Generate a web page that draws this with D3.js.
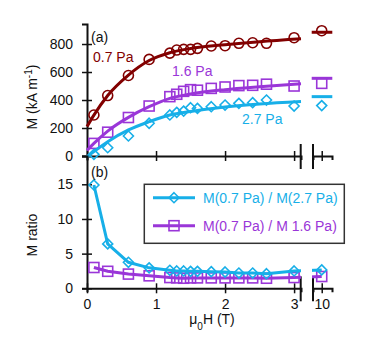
<!DOCTYPE html>
<html>
<head>
<meta charset="utf-8">
<script src="https://cdn.jsdelivr.net/npm/d3@7"></script>
<style>
  body { margin: 0; background: #fff; }
  svg text { font-family: "Liberation Sans", Arial, sans-serif; font-size: 14px; }
</style>
</head>
<body>
<div id="chart"></div>
<script>
// field values (T), last one sits on the broken-axis segment
var fieldX = [0.1, 0.3, 0.6, 0.9, 1.2, 1.3, 1.4, 1.5, 1.6, 1.8, 2.0, 2.2, 2.4, 2.6, 3.0, 10];
// magnetisation, kA/m
var m07 = [293, 432, 575, 690, 735, 757, 762, 762, 769, 786, 788, 805, 809, 805, 845, 895];
var m16 = [90, 170, 275, 357, 424, 441, 462, 474, 470, 483, 493, 503, 505, 513, 500, 519];
var m27 = [12, 59, 143, 234, 293, 312, 321, 345, 340, 352, 364, 376, 381, 400, 357, 360];
// fit curves
var fitX = [0, 0.1, 0.3, 0.6, 0.9, 1.2, 1.5, 2.0, 2.5, 3.1];
var fit07 = [210, 292, 432, 578, 682, 738, 768, 795, 817, 838];
var fit16 = [40, 90, 178, 276, 352, 412, 443, 474, 495, 516];
var fit27 = [-5, 32, 102, 186, 245, 293, 318, 350, 372, 390];
var fitAt10 = [884, 555, 424];
// ratios
var ratio27 = [14.9, 6.4, 3.75, 2.95, 2.6, 2.5, 2.5, 2.45, 2.45, 2.4, 2.35, 2.2, 2.2, 2.1, 2.5, 2.65];
var ratio16 = [3.0, 2.45, 2.05, 1.8, 1.55, 1.5, 1.45, 1.5, 1.5, 1.5, 1.5, 1.5, 1.5, 1.45, 1.55, 1.7];

var leftTicks = [0, 1, 2, 3];
var rightTicks = [10];
var mTicks = [0, 200, 400, 600, 800];
var rTicks = [0, 5, 10, 15];

var colRed = '#820000', colPurple = '#9a36d8', colCyan = '#17afe8';

var width = 381, height = 356;
var svg = d3.select('#chart').append('svg')
    .attr('width', width).attr('height', height);

// broken x axis: two linear pieces
var xL = d3.scaleLinear().domain([0, 3.1]).range([87, 301]);
var xR = d3.scaleLinear().domain([9.83, 10.2]).range([313, 332]);
function xpos(v) { return v < 5 ? xL(v) : xR(v); }

var yTop = d3.scaleLinear().domain([0, 943]).range([156, 24]);
var yBot = d3.scaleLinear().domain([0, 19.08]).range([288.3, 156]);

var defs = svg.append('defs');
var clip = defs.append('clipPath').attr('id', 'gapclip');
clip.append('rect').attr('x', 0).attr('y', 0).attr('width', 301).attr('height', height);
clip.append('rect').attr('x', 312).attr('y', 0).attr('width', width - 312).attr('height', height);

function crossTicks(g, horizontal) {
    g.selectAll('.tick line')
        .attr(horizontal ? 'y1' : 'x1', -5)
        .attr(horizontal ? 'y2' : 'x2', 5)
        .attr('stroke', '#111').attr('stroke-width', 1.5);
    g.select('.domain').attr('stroke', '#111').attr('stroke-width', 2);
    g.selectAll('text').attr('fill', '#111').style('font-size', '14px')
        .style('font-family', '"Liberation Sans", Arial, sans-serif');
}

function xAxes(y0, labels) {
    var gl = svg.append('g').attr('transform', 'translate(0,' + y0 + ')')
        .call(d3.axisBottom(xL).tickValues(leftTicks).tickSizeOuter(0).tickSize(4).tickPadding(7)
            .tickFormat(labels ? d3.format('d') : ''));
    crossTicks(gl, true);
    var gr = svg.append('g').attr('transform', 'translate(0,' + y0 + ')')
        .call(d3.axisBottom(xR).tickValues(rightTicks).tickSizeOuter(0).tickSize(4).tickPadding(7)
            .tickFormat(labels ? d3.format('d') : ''));
    crossTicks(gr, true);
    // break marks
    [300.7, 313].forEach(function(bx) {
        svg.append('line').attr('x1', bx).attr('x2', bx)
            .attr('y1', y0 - 12).attr('y2', y0 + 13)
            .attr('stroke', '#111').attr('stroke-width', 2);
    });
}

// ---- panel (a) ----
var ga = svg.append('g').attr('transform', 'translate(87,0)')
    .call(d3.axisLeft(yTop).tickValues(mTicks).tickSizeOuter(0).tickSize(5).tickPadding(9));
crossTicks(ga, false);
xAxes(156, false);

var fitLine = d3.line()
    .x(function(d) { return xL(d[0]); })
    .y(function(d) { return yTop(d[1]); })
    .curve(d3.curveMonotoneX);

var topSeries = [
    {vals: m07, fit: fit07, f10: fitAt10[0], color: colRed, shape: 'circle'},
    {vals: m16, fit: fit16, f10: fitAt10[1], color: colPurple, shape: 'square'},
    {vals: m27, fit: fit27, f10: fitAt10[2], color: colCyan, shape: 'diamond'}
];

function marker(sel, shape, color) {
    if (shape === 'circle') {
        sel.append('circle').attr('r', 5);
    } else if (shape === 'square') {
        sel.append('rect').attr('x', -5).attr('y', -5).attr('width', 10).attr('height', 10);
    } else {
        sel.append('path').attr('d', 'M0,-5L5,0L0,5L-5,0Z');
    }
    sel.selectAll('circle,rect,path').attr('fill', 'none').attr('stroke', color).attr('stroke-width', 1.6);
}

topSeries.forEach(function(s) {
    svg.append('path')
        .datum(fitX.map(function(x, i) { return [x, s.fit[i]]; }))
        .attr('d', fitLine)
        .attr('fill', 'none').attr('stroke', s.color).attr('stroke-width', 3);
    svg.append('line')
        .attr('x1', 311.7).attr('x2', 332.3)
        .attr('y1', yTop(s.f10)).attr('y2', yTop(s.f10))
        .attr('stroke', s.color).attr('stroke-width', 3);
    svg.append('g').selectAll('g')
        .data(fieldX.map(function(x, i) { return [x, s.vals[i]]; }))
        .enter().append('g')
        .attr('transform', function(d) { return 'translate(' + xpos(d[0]) + ',' + yTop(d[1]) + ')'; })
        .each(function() { marker(d3.select(this), s.shape, s.color); });
});

svg.append('text').attr('x', 91).attr('y', 42).attr('fill', '#111').text('(a)');
svg.append('text').attr('x', 93).attr('y', 62).attr('fill', colRed).text('0.7 Pa');
svg.append('text').attr('x', 172).attr('y', 76).attr('fill', colPurple).text('1.6 Pa');
svg.append('text').attr('x', 242).attr('y', 124).attr('fill', colCyan).text('2.7 Pa');

var ylabA = svg.append('text')
    .attr('transform', 'translate(37,97) rotate(-90)')
    .attr('text-anchor', 'middle').attr('fill', '#111');
ylabA.append('tspan').text('M (kA m');
ylabA.append('tspan').attr('baseline-shift', 'super').style('font-size', '10px').text('-1');
ylabA.append('tspan').text(')');

// ---- panel (b) ----
var gb = svg.append('g').attr('transform', 'translate(87,0)')
    .call(d3.axisLeft(yBot).tickValues(rTicks).tickSizeOuter(0).tickSize(5).tickPadding(9));
crossTicks(gb, false);
xAxes(288.3, true);

var ratioLine = d3.line()
    .x(function(d) { return xpos(d[0]); })
    .y(function(d) { return yBot(d[1]); });

var botSeries = [
    {vals: ratio16, color: colPurple, shape: 'square', name: 'M(0.7 Pa) / M 1.6 Pa)'},
    {vals: ratio27, color: colCyan, shape: 'diamond', name: 'M(0.7 Pa) / M(2.7 Pa)'}
];

botSeries.forEach(function(s) {
    var pts = fieldX.map(function(x, i) { return [x, s.vals[i]]; });
    svg.append('path').datum(pts)
        .attr('d', ratioLine)
        .attr('clip-path', 'url(#gapclip)')
        .attr('fill', 'none').attr('stroke', s.color).attr('stroke-width', 3);
    svg.append('g').selectAll('g')
        .data(pts)
        .enter().append('g')
        .attr('transform', function(d) { return 'translate(' + xpos(d[0]) + ',' + yBot(d[1]) + ')'; })
        .each(function() { marker(d3.select(this), s.shape, s.color); });
});

svg.append('text').attr('x', 91).attr('y', 177).attr('fill', '#111').text('(b)');

svg.append('text')
    .attr('transform', 'translate(37,235) rotate(-90)')
    .attr('text-anchor', 'middle').attr('fill', '#111').text('M ratio');

var xlab = svg.append('text').attr('x', 212).attr('y', 324)
    .attr('text-anchor', 'middle').attr('fill', '#111');
xlab.append('tspan').text('\u03bc');
xlab.append('tspan').attr('baseline-shift', 'sub').style('font-size', '10px').text('0');
xlab.append('tspan').text('H (T)');

// legend
var leg = svg.append('g');
leg.append('rect').attr('x', 144.3).attr('y', 184.3).attr('width', 200).attr('height', 59)
    .attr('fill', '#fff').attr('stroke', '#333').attr('stroke-width', 1.5);
var legItems = [botSeries[1], botSeries[0]];
legItems.forEach(function(s, i) {
    var ly = 197.7 + i * 28;
    leg.append('line').attr('x1', 153).attr('x2', 195).attr('y1', ly).attr('y2', ly)
        .attr('stroke', s.color).attr('stroke-width', 3);
    var mg = leg.append('g').attr('transform', 'translate(174,' + ly + ')');
    marker(mg, s.shape, s.color);
    leg.append('text').attr('x', 203).attr('y', ly).attr('dy', '0.35em')
        .attr('fill', s.color).text(s.name);
});
</script>
</body>
</html>
